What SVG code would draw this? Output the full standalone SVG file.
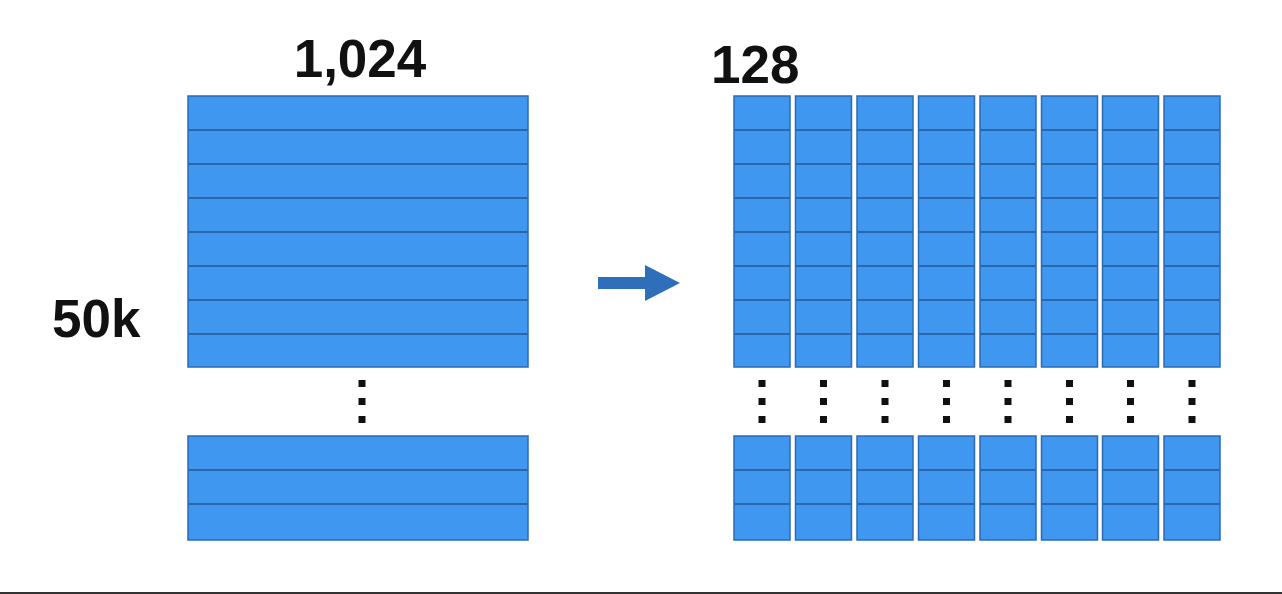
<svg xmlns="http://www.w3.org/2000/svg" width="1282" height="594" viewBox="0 0 1282 594">
<style>
.blk{fill:#3f97ef;stroke:#2c6bb3;stroke-width:1.5}
.ln{stroke:#2a67ad;stroke-width:2}
.dot{fill:#111}
.lbl{font-family:"Liberation Sans",Arial,sans-serif;font-weight:bold;font-size:53px;fill:#111}
</style>
<defs>
<g id="dots"><rect class="dot" x="-3.5" y="380" width="7" height="7"/><rect class="dot" x="-3.5" y="398" width="7" height="7"/><rect class="dot" x="-3.5" y="416" width="7" height="7"/></g>
<g id="col">
<rect class="blk" x="0" y="96" width="56" height="271"/>
<path class="ln" d="M0 130H56M0 164H56M0 198H56M0 232H56M0 266H56M0 300H56M0 334H56"/>
<rect class="blk" x="0" y="436" width="56" height="104"/>
<path class="ln" d="M0 470H56M0 504H56"/>
<use href="#dots" x="28"/>
</g>
</defs>
<rect width="1282" height="594" fill="#fff"/>
<g id="label-1024"><text class="lbl" x="360" y="77" text-anchor="middle">1,024</text></g>
<g id="label-128"><text class="lbl" x="711" y="83">128</text></g>
<g id="label-50k"><text class="lbl" x="52" y="337">50k</text></g>
<g id="left-matrix">
<rect class="blk" x="188" y="96" width="340" height="271"/>
<path class="ln" d="M188 130H528M188 164H528M188 198H528M188 232H528M188 266H528M188 300H528M188 334H528"/>
<rect class="blk" x="188" y="436" width="340" height="104"/>
<path class="ln" d="M188 470H528M188 504H528"/>
<use href="#dots" x="362"/>
</g>
<g id="right-matrix">
<use href="#col" x="734"/>
<use href="#col" x="795.5"/>
<use href="#col" x="857"/>
<use href="#col" x="918.5"/>
<use href="#col" x="980"/>
<use href="#col" x="1041.5"/>
<use href="#col" x="1102.5"/>
<use href="#col" x="1164"/>
</g>
<g id="connectors">
<path d="M598 277H645V265L680 283L645 301V289H598Z" fill="#2f6fba"/>
</g>
<rect x="0" y="592" width="1282" height="2" fill="#333"/>
</svg>
